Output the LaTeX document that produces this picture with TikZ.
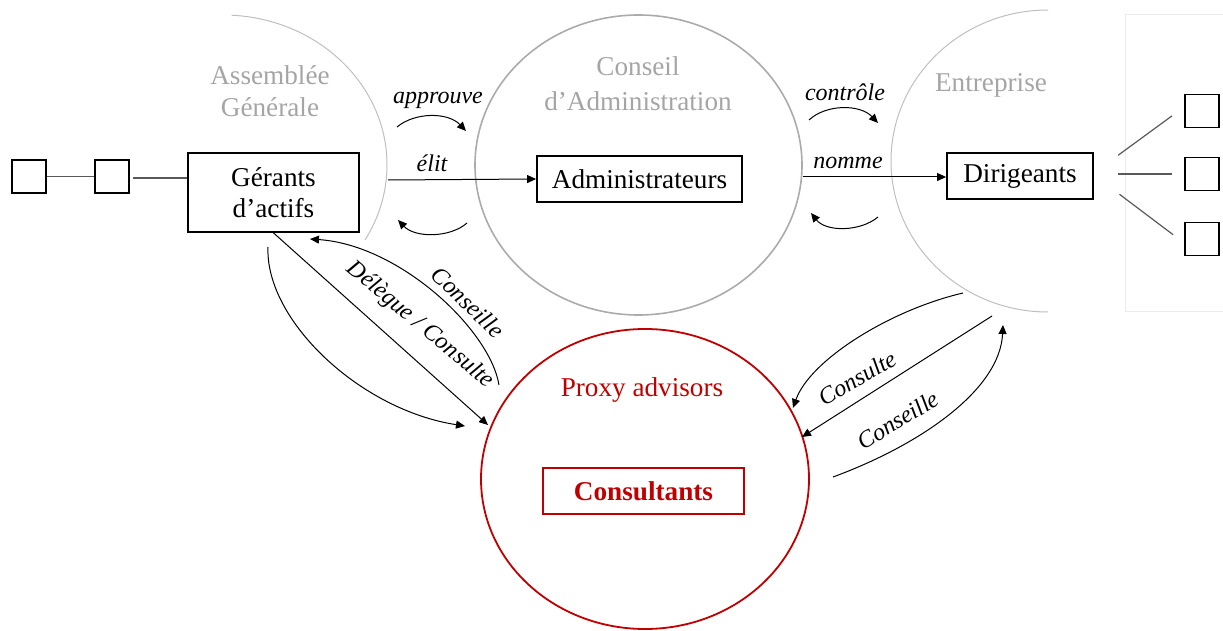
\documentclass[tikz,border=0pt]{standalone}
\usepackage{fontspec}
\setmainfont{Liberation Serif}
\usetikzlibrary{arrows.meta,shapes.geometric}
\definecolor{lbl}{RGB}{165,165,165}
\definecolor{proxyred}{RGB}{192,0,0}
\begin{document}
\begin{tikzpicture}[x=0.5pt,y=-0.5pt,
  txt/.style={font=\fontsize{13.6}{16.3}\selectfont, inner sep=0pt},
  lab/.style={font=\fontsize{12}{14}\selectfont\itshape, inner sep=0pt},
  grp/.style={txt, text=lbl, align=center},
  box/.style={draw, line width=0.9pt, txt, align=center, inner sep=0pt},
  sbox/.style={draw, line width=0.9pt, minimum width=17pt, minimum height=16.5pt, inner sep=0pt},
  arr/.style={line width=0.5pt, -{Triangle[length=4.5pt,width=4pt]}},
  link/.style={line width=0.6pt, draw=black!65}
]
\useasboundingbox (0,0) rectangle (1223,631);

% right panel
\draw[black!8, line width=0.5pt] (1125,15) rectangle (1240,312);

% group outlines
\draw[black!25, line width=0.5pt] (223,165) ++(-87:164 and 150)
  arc[start angle=-87, end angle=30, x radius=164, y radius=150];
\draw[black!33, line width=0.8pt] (638.5,165) ellipse [x radius=163.5, y radius=150];
\draw[black!25, line width=0.5pt] (1048,161) ++(-90:157 and 151)
  arc[start angle=-90, end angle=-270, x radius=157, y radius=151];
\draw[proxyred, line width=0.9pt] (645,479) ellipse [x radius=164, y radius=150];

% group titles
\node[grp] (ag) at (270,91) {Assemblée\\Générale};
\node[grp, font=\fontsize{13.6}{17.5}\selectfont] (ca) at (638,84) {Conseil\\d’Administration};
\node[grp] (ent) at (991,85) {Entreprise};
\node[txt, text=proxyred] (prx) at (642,390) {Proxy advisors};

% boxes
\node[box, minimum width=85.5pt, minimum height=39.5pt, font=\fontsize{13.6}{15.5}\selectfont] (ger) at (273.5,192.5) {Gérants\\d’actifs};
\node[box, minimum width=102.5pt, minimum height=23pt] (adm) at (639.5,179) {Administrateurs};
\node[box, minimum width=73pt, minimum height=23pt] (dir) at (1020,176) {Dirigeants};
\node[box, draw=proxyred, text=proxyred, font=\fontsize{13.6}{16.3}\selectfont\bfseries, minimum width=100.5pt, minimum height=23pt] (cons) at (643.5,491) {Consultants};

% small boxes
\node[sbox] (sa) at (29,176.5) {};
\node[sbox] (sb) at (112,176.5) {};
\node[sbox] (r1) at (1202,111) {};
\node[sbox] (r2) at (1202,174) {};
\node[sbox] (r3) at (1202,239) {};

\draw[link] (sa.east) -- (sb.west);
\draw[link, shorten <=1.5pt] ([yshift=-0.75pt]sb.east) -- ([yshift=-0.75pt]sb.east -| ger.west);
\draw[link, shorten <=15pt, shorten >=7.5pt] ([yshift=1.5pt]dir.east) -- ([yshift=2pt]r1.west);
\draw[link, shorten <=12pt, shorten >=6pt] ([yshift=1pt]dir.east) -- (r2.west);
\draw[link, shorten <=16pt, shorten >=6.9pt] ([yshift=0.5pt]dir.east) -- ([yshift=-2pt]r3.west);

% labels
\node[lab] (lapp) at (438,100) {approuve};
\node[lab] (lelit) at (432,163) {élit};
\node[lab] (lctl) at (845,92) {contrôle};
\node[lab] (lnom) at (848,163) {nomme};
\node[lab, rotate=-40] (ldel) at (420,325) {Délègue / Consulte};
\node[lab, rotate=-44] (lcsl) at (468,302) {Conseille};
\node[lab, rotate=30] (rcst) at (857,378) {Consulte};
\node[lab, rotate=31] (rcsl) at (898,420) {Conseille};

% coordinates
\coordinate (a1s) at (397,127); \coordinate (a1e) at (466,131);
\coordinate (a2s) at (467,223); \coordinate (a2e) at (398,220);
\coordinate (c1s) at (809,120); \coordinate (c1e) at (878,123);
\coordinate (c2s) at (878,217); \coordinate (c2e) at (811,213);
\coordinate (agR) at (388,180);
\coordinate (caR) at (803,177);
\coordinate (g1s) at (499,385); \coordinate (g1e) at (310,239);
\coordinate (g2e) at (488,425);
\coordinate (g3s) at (268,247); \coordinate (g3e) at (465,426);
\coordinate (e1s) at (963,293); \coordinate (e1e) at (793,408);
\coordinate (e2s) at (992,316); \coordinate (e2e) at (802,437);
\coordinate (e3s) at (833,477); \coordinate (e3e) at (1003,325);

% arrows
\draw[arr] (a1s) .. controls (415,112) and (448,112) .. (a1e);
\draw[arr] (a2s) .. controls (450,238) and (415,238) .. (a2e);
\draw[arr] (c1s) .. controls (826,104) and (860,104) .. (c1e);
\draw[arr] (c2s) .. controls (860,232) and (826,232) .. (c2e);
\draw[arr] (agR) -- (adm.west);
\draw[arr] (caR) -- (caR -| dir.west);
\draw[arr] (g1s) .. controls (490,330) and (400,245) .. (g1e);
\draw[arr] (ger.south) -- (g2e);
\draw[arr] (g3s) .. controls (265,320) and (360,410) .. (g3e);
\draw[arr] (e1s) .. controls (890,310) and (810,360) .. (e1e);
\draw[arr] (e2s) -- (e2e);
\draw[arr] (e3s) .. controls (920,445) and (1000,390) .. (e3e);
\end{tikzpicture}
\end{document}
